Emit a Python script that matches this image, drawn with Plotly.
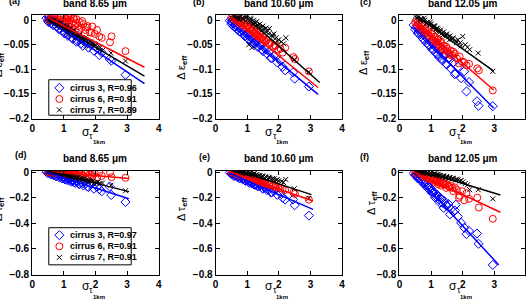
import plotly.graph_objects as go

W, H = 528, 305

# ---------------- data ----------------
# sigma_tau_1km for each cirrus case (shared by all panels)
x3 = [0.45,0.5,0.55,0.6,0.63,0.68,0.72,0.77,0.82,0.86,0.9,0.95,1.0,1.04,1.1,1.15,1.2,1.25,1.3,1.36,1.42,1.48,1.55,1.62,1.7,1.78,1.85,1.95,2.05,2.12,2.2,2.45,2.5,2.95,
      0.52,0.58,0.66,0.75,0.84,0.93,1.02,1.08,1.13,1.22,1.28,1.33,1.4,1.5,1.6,1.75]
x6 = [0.5,0.55,0.6,0.66,0.7,0.75,0.8,0.85,0.9,0.95,1.0,1.05,1.1,1.15,1.2,1.25,1.3,1.35,1.4,1.45,1.5,1.56,1.62,1.68,1.75,1.82,1.9,1.98,2.05,2.12,2.2,2.46,2.51,2.95,
      0.62,0.72,0.82,0.92,1.02,1.08,1.12,1.18,1.22,1.28,1.32,1.38,1.48,1.58,1.7,1.88]
x7 = [0.5,0.55,0.6,0.65,0.7,0.75,0.8,0.85,0.9,0.95,1.0,1.05,1.1,1.15,1.2,1.25,1.3,1.35,1.4,1.45,1.5,1.55,1.6,1.65,1.7,1.78,1.85,1.92,2.0,2.08,2.15,2.22,2.49,2.95,
      0.58,0.68,0.78,0.88,0.98,1.08,1.12,1.18,1.22,1.28,1.38,1.48,1.58,1.68,1.8,1.95]

# panel (a) delta eps_eff, band 8.65
ya3 = [0.004,-0.002,0.003,-0.006,0.0,-0.009,-0.003,-0.012,-0.008,-0.017,-0.011,-0.021,-0.015,-0.026,-0.019,-0.030,-0.024,-0.035,-0.028,-0.031,-0.041,-0.036,-0.047,-0.042,-0.046,-0.056,-0.050,-0.062,-0.058,-0.071,-0.066,-0.079,-0.0825,-0.111,
       -0.004,0.002,-0.010,-0.003,-0.018,-0.011,-0.027,-0.016,-0.032,-0.023,-0.038,-0.027,-0.044,-0.035,-0.052,-0.047]
ya6 = [0.004,0.0,0.006,0.002,0.007,0.003,0.008,0.001,0.007,-0.002,0.008,0.004,-0.004,0.006,0.0,-0.007,0.004,-0.010,0.002,-0.012,-0.004,-0.016,-0.008,-0.020,-0.012,-0.024,-0.013,-0.028,-0.020,-0.033,-0.036,-0.045,-0.033,-0.063,
       0.005,0.001,-0.004,0.006,-0.008,0.002,0.007,-0.012,0.005,-0.016,0.003,-0.006,-0.020,-0.002,-0.015,-0.026]
ya7 = [0.003,-0.001,0.001,-0.004,-0.002,-0.007,-0.004,-0.010,-0.008,-0.013,-0.011,-0.017,-0.015,-0.021,-0.018,-0.025,-0.022,-0.029,-0.026,-0.033,-0.031,-0.037,-0.035,-0.041,-0.039,-0.046,-0.044,-0.051,-0.050,-0.056,-0.055,-0.062,-0.067,-0.083,
       -0.004,0.0,-0.012,-0.005,-0.018,-0.012,-0.026,-0.018,-0.030,-0.022,-0.036,-0.030,-0.044,-0.036,-0.053,-0.048]
# panel (b) delta eps_eff, band 10.60
yb3 = [-0.001,-0.008,-0.006,-0.013,-0.010,-0.018,-0.015,-0.023,-0.019,-0.028,-0.024,-0.032,-0.029,-0.038,-0.034,-0.043,-0.039,-0.048,-0.044,-0.054,-0.050,-0.060,-0.057,-0.068,-0.064,-0.077,-0.072,-0.086,-0.083,-0.095,-0.102,-0.106,-0.119,-0.135,
       -0.004,-0.013,-0.011,-0.023,-0.020,-0.033,-0.030,-0.041,-0.036,-0.048,-0.044,-0.054,-0.050,-0.063,-0.060,-0.077]
yb6 = [0.006,0.002,0.004,-0.002,0.001,-0.006,-0.003,-0.010,-0.006,-0.014,-0.010,-0.018,-0.015,-0.022,-0.019,-0.027,-0.024,-0.032,-0.029,-0.037,-0.034,-0.042,-0.040,-0.048,-0.046,-0.054,-0.052,-0.060,-0.058,-0.066,-0.056,-0.075,-0.079,-0.104,
       0.005,0.0,-0.004,-0.008,-0.013,-0.016,-0.020,-0.022,-0.027,-0.028,-0.033,-0.034,-0.040,-0.044,-0.048,-0.052]
yb7 = [0.006,0.003,0.008,0.002,0.007,0.0,0.008,0.003,0.006,-0.002,0.009,-0.050,0.004,-0.056,0.0,-0.006,-0.003,-0.010,-0.008,-0.014,-0.012,-0.018,-0.016,-0.022,-0.017,-0.030,-0.028,-0.036,-0.040,-0.044,-0.048,-0.036,-0.080,-0.105,
       0.009,0.005,0.009,0.002,0.006,-0.004,0.002,-0.008,-0.004,-0.012,-0.015,-0.020,-0.024,-0.028,-0.034,-0.042]
# panel (c) delta eps_eff, band 12.05
yc3 = [-0.010,-0.019,-0.016,-0.027,-0.022,-0.033,-0.028,-0.040,-0.034,-0.047,-0.039,-0.052,-0.045,-0.060,-0.049,-0.067,-0.058,-0.075,-0.063,-0.082,-0.070,-0.089,-0.078,-0.098,-0.086,-0.108,-0.095,-0.118,-0.104,-0.145,-0.126,-0.165,-0.174,-0.175,
       -0.014,-0.026,-0.024,-0.038,-0.035,-0.050,-0.046,-0.060,-0.054,-0.070,-0.062,-0.078,-0.072,-0.090,-0.080,-0.110]
yc6 = [-0.004,-0.010,-0.008,-0.016,-0.012,-0.021,-0.018,-0.027,-0.022,-0.032,-0.028,-0.038,-0.034,-0.044,-0.040,-0.050,-0.046,-0.056,-0.052,-0.062,-0.058,-0.067,-0.062,-0.072,-0.068,-0.078,-0.074,-0.084,-0.086,-0.092,-0.089,-0.098,-0.102,-0.143,
       -0.006,-0.020,-0.017,-0.030,-0.026,-0.042,-0.034,-0.046,-0.038,-0.054,-0.044,-0.060,-0.054,-0.070,-0.064,-0.088]
yc7 = [0.008,0.004,0.006,0.001,0.003,-0.002,0.0,-0.006,-0.004,-0.010,-0.008,-0.014,-0.012,-0.018,-0.016,-0.022,-0.020,-0.026,-0.024,-0.030,-0.028,-0.034,-0.032,-0.038,-0.036,-0.042,-0.040,-0.046,-0.033,-0.050,-0.055,-0.060,-0.067,-0.104,
       0.009,-0.001,0.004,-0.006,-0.004,-0.012,-0.013,-0.018,-0.020,-0.024,-0.030,-0.032,-0.040,-0.038,-0.046,-0.052]
# panel (d) delta tau_eff, band 8.65
yd3 = [0.0,-0.008,-0.004,-0.018,-0.010,-0.026,-0.016,-0.034,-0.022,-0.042,-0.030,-0.050,-0.038,-0.058,-0.045,-0.066,-0.052,-0.075,-0.060,-0.085,-0.068,-0.094,-0.078,-0.105,-0.088,-0.118,-0.098,-0.130,-0.112,-0.133,-0.150,-0.113,-0.179,-0.234,
       -0.002,-0.016,-0.012,-0.032,-0.026,-0.046,-0.040,-0.060,-0.050,-0.070,-0.062,-0.080,-0.070,-0.094,-0.086,-0.112]
yd6 = [0.0,0.003,-0.004,0.002,-0.006,0.0,-0.008,0.002,-0.010,-0.003,-0.012,0.0,-0.015,-0.004,-0.018,-0.002,-0.020,-0.008,-0.024,-0.005,-0.028,-0.012,-0.030,-0.006,-0.034,-0.015,-0.038,-0.010,-0.042,0.0,-0.030,-0.003,-0.040,-0.045,
       0.004,-0.002,0.003,-0.006,0.002,-0.010,0.004,-0.012,-0.002,-0.016,0.003,-0.020,-0.008,-0.026,0.002,-0.022]
yd7 = [0.0,0.004,-0.004,0.0,-0.008,-0.004,-0.012,-0.008,-0.016,-0.012,-0.022,-0.018,-0.028,-0.024,-0.034,-0.030,-0.040,-0.036,-0.046,-0.042,-0.052,-0.048,-0.058,-0.054,-0.064,-0.062,-0.072,-0.070,-0.080,-0.078,-0.088,-0.086,-0.103,-0.146,
       0.002,-0.008,-0.006,-0.020,-0.018,-0.032,-0.026,-0.040,-0.034,-0.046,-0.044,-0.058,-0.056,-0.070,-0.068,-0.088]
# panel (e) delta tau_eff, band 10.60
ye3 = [-0.004,-0.015,-0.012,-0.028,-0.022,-0.038,-0.030,-0.048,-0.040,-0.058,-0.050,-0.068,-0.060,-0.078,-0.072,-0.090,-0.082,-0.100,-0.094,-0.112,-0.104,-0.125,-0.118,-0.140,-0.132,-0.158,-0.148,-0.178,-0.165,-0.200,-0.215,-0.214,-0.259,-0.340,
       -0.010,-0.030,-0.026,-0.048,-0.044,-0.066,-0.060,-0.084,-0.076,-0.098,-0.092,-0.110,-0.104,-0.130,-0.124,-0.160]
ye6 = [0.0,-0.005,-0.004,-0.012,-0.010,-0.020,-0.018,-0.028,-0.026,-0.035,-0.034,-0.044,-0.042,-0.053,-0.050,-0.062,-0.060,-0.070,-0.068,-0.079,-0.077,-0.088,-0.086,-0.098,-0.096,-0.108,-0.106,-0.118,-0.125,-0.132,-0.140,-0.160,-0.171,-0.216,
       -0.008,-0.024,-0.022,-0.036,-0.034,-0.050,-0.052,-0.058,-0.062,-0.066,-0.074,-0.076,-0.084,-0.092,-0.100,-0.118]
ye7 = [0.0,-0.002,0.002,-0.004,0.0,-0.006,-0.002,-0.008,-0.005,-0.012,-0.008,-0.016,-0.012,-0.020,-0.018,-0.026,-0.022,-0.032,-0.028,-0.038,-0.034,-0.044,-0.040,-0.050,-0.046,-0.056,-0.052,-0.062,-0.068,-0.074,-0.082,-0.058,-0.130,-0.205,
       0.002,-0.003,-0.001,-0.007,-0.004,-0.012,-0.010,-0.016,-0.014,-0.022,-0.026,-0.030,-0.036,-0.042,-0.050,-0.060]
# panel (f) delta tau_eff, band 12.05
yf3 = [-0.010,-0.025,-0.028,-0.045,-0.040,-0.068,-0.060,-0.092,-0.085,-0.118,-0.105,-0.140,-0.130,-0.165,-0.158,-0.190,-0.180,-0.215,-0.205,-0.240,-0.228,-0.262,-0.250,-0.290,-0.310,-0.255,-0.347,-0.397,-0.435,-0.485,-0.460,-0.480,-0.560,-0.725,
       -0.015,-0.050,-0.052,-0.080,-0.100,-0.120,-0.150,-0.160,-0.200,-0.190,-0.240,-0.210,-0.280,-0.260,-0.330,-0.300]
yf6 = [-0.005,-0.012,-0.010,-0.020,-0.018,-0.030,-0.026,-0.040,-0.036,-0.050,-0.046,-0.060,-0.056,-0.070,-0.066,-0.080,-0.076,-0.090,-0.086,-0.100,-0.096,-0.112,-0.108,-0.125,-0.120,-0.138,-0.184,-0.150,-0.220,-0.165,-0.209,-0.200,-0.277,-0.365,
       -0.008,-0.035,-0.030,-0.055,-0.050,-0.062,-0.078,-0.072,-0.094,-0.084,-0.106,-0.094,-0.124,-0.118,-0.150,-0.200]
yf7 = [0.002,-0.002,0.0,-0.005,-0.002,-0.008,-0.005,-0.012,-0.008,-0.016,-0.012,-0.020,-0.016,-0.025,-0.022,-0.030,-0.028,-0.036,-0.034,-0.042,-0.040,-0.048,-0.046,-0.055,-0.052,-0.062,-0.060,-0.070,-0.078,-0.090,-0.100,-0.138,-0.138,-0.209,
       0.003,-0.004,-0.002,-0.010,-0.006,-0.016,-0.014,-0.020,-0.018,-0.026,-0.030,-0.036,-0.042,-0.048,-0.056,-0.066]

# linear fits per panel: (x_start, x_end, slope, intercept) for cirrus 3, 6, 7
fit_a = [(0.38, 3.55, -0.0432, 0.0244), (0.50, 3.55, -0.0330, 0.0214), (0.50, 3.55, -0.0380, 0.0212)]
fit_b = [(0.375, 3.24, -0.0530, 0.0209), (0.48, 3.24, -0.0520, 0.0316), (0.90, 3.29, -0.0570, 0.0608)]
fit_c = [(0.45, 2.98, -0.0650, 0.0147), (0.43, 2.98, -0.0557, 0.0240), (0.58, 2.98, -0.0460, 0.0333)]
fit_d = [(0.42, 3.06, -0.0790, 0.0330), (0.53, 3.06, -0.0217, 0.0165), (0.53, 3.06, -0.0625, 0.0381)]
fit_e = [(0.43, 3.08, -0.1070, 0.0380), (0.43, 3.08, -0.0870, 0.0420), (0.69, 3.03, -0.0810, 0.0690)]
fit_f = [(0.48, 3.14, -0.2680, 0.1160), (0.43, 3.19, -0.1156, 0.0547), (0.58, 3.19, -0.0755, 0.0618)]

band_titles = ["band 8.65 μm", "band 10.60 μm", "band 12.05 μm"]
panel_labels = ["(a)", "(b)", "(c)", "(d)", "(e)", "(f)"]
legend_top = ["cirrus 3, R=0.96", "cirrus 6, R=0.91", "cirrus 7, R=0.89"]
legend_bottom = ["cirrus 3, R=0.97", "cirrus 6, R=0.91", "cirrus 7, R=0.91"]
xtick_vals = [0, 1, 2, 3, 4]
xtick_text = ["0", "1", "2", "3", "4"]
ytick_top_vals = [0, -0.05, -0.1, -0.15, -0.2]
ytick_top_text = ["0", "\u22120.05", "\u22120.1", "\u22120.15", "\u22120.2"]
ytick_bot_vals = [0, -0.2, -0.4, -0.6, -0.8]
ytick_bot_text = ["0", "\u22120.2", "\u22120.4", "\u22120.6", "\u22120.8"]

# ---------------- styling / layout ----------------
FONT = "Liberation Sans, Arial, sans-serif"
colors = ["#0000ff", "#ff0000", "#000000"]
symbols = ["diamond-open", "circle-open", "x-thin-open"]
msizes = [7, 7, 5]
xs = [x3, x6, x7]
panel_y = [[ya3, ya6, ya7], [yb3, yb6, yb7], [yc3, yc6, yc7],
           [yd3, yd6, yd7], [ye3, ye6, ye7], [yf3, yf6, yf7]]
fits = [fit_a, fit_b, fit_c, fit_d, fit_e, fit_f]

lefts = [29.5, 215.0, 401.0]
top_row = (11.6, 118.4)
bot_row = (172.4, 279.7)

def fx(p):
    return p / W

def fy(p):
    return 1 - p / H

fig = go.Figure()
layout = dict(
    width=W, height=H, margin=dict(l=0, r=0, t=0, b=0),
    paper_bgcolor="white", plot_bgcolor="rgba(0,0,0,0)", showlegend=False,
    font=dict(family=FONT, color="black"),
)
annotations = []
shapes = []

def ann(text, px, py, size, **kw):
    d = dict(text=text, x=fx(px), y=fy(py), xref="paper", yref="paper", showarrow=False,
             xanchor="center", yanchor="middle", font=dict(size=size))
    d.update(kw)
    annotations.append(d)

for i in range(6):
    col = i % 3
    row = i // 3
    ax = "" if i == 0 else str(i + 1)
    left = lefts[col]
    right = min(left + 128, W)
    xmax = (right - left) / 32.0
    ytop, ybot = top_row if row == 0 else bot_row
    for k in range(3):
        fig.add_trace(go.Scatter(
            x=xs[k], y=panel_y[i][k], mode="markers",
            marker=dict(symbol=symbols[k], size=msizes[k], color=colors[k],
                        line=dict(width=1, color=colors[k])),
            xaxis="x" + ax, yaxis="y" + ax, hoverinfo="skip"))
    for k in range(3):
        x0, x1, m, b = fits[i][k]
        fig.add_trace(go.Scatter(
            x=[x0, x1], y=[m * x0 + b, m * x1 + b], mode="lines",
            line=dict(color=colors[k], width=1.5),
            xaxis="x" + ax, yaxis="y" + ax, hoverinfo="skip"))
    common = dict(showgrid=False, zeroline=False, showline=True, linecolor="black",
                  linewidth=1, mirror="allticks", ticks="inside", ticklen=4,
                  tickwidth=1, tickcolor="black",
                  tickfont=dict(family=FONT, size=10, color="black", weight="bold"))
    layout["xaxis" + ax] = dict(common, domain=[fx(left), fx(right)], range=[0, xmax],
                                tickvals=xtick_vals, ticktext=xtick_text,
                                anchor="y" + ax, fixedrange=True)
    layout["yaxis" + ax] = dict(common, domain=[fy(ybot), fy(ytop)],
                                range=[-0.2, 0.01] if row == 0 else [-0.8, 0.01],
                                tickvals=ytick_top_vals if row == 0 else ytick_bot_vals,
                                ticktext=ytick_top_text if row == 0 else ytick_bot_text,
                                anchor="x" + ax, fixedrange=True)
    # panel title
    ann("<b>" + band_titles[col] + "</b>", left + 64, ytop - 12.2, 10)

# panel labels
lab_pos = [(12, -3), (198, -2), (367, -2), (18, 156), (204, 158), (366, 158)]
for lab, (px, py) in zip(panel_labels, lab_pos):
    ann("<b>" + lab + "</b>", px, py, 9)

# y-axis titles
ytitle_pos = [(-4, 63), (181, 65), (365, 60), (-4, 212), (181, 212), (373, 206)]
for i, (px, py) in enumerate(ytitle_pos):
    sym = "\u03b5" if i < 3 else "\u03c4"
    ann("\u0394 " + sym + "<sub><b>eff</b></sub>", px, py, 11, textangle=-90)

# x-axis titles (sigma with nested subscripts)
for i in range(6):
    col = i % 3
    row = i // 3
    base_y = 132 if row == 0 else 291.5
    bx = lefts[col] + 54
    ann("\u03c3", bx, base_y, 12)
    ann("\u03c4", bx + 6, base_y + 4, 9)
    ann("<b>1km</b>", bx + 13.5, base_y + 11, 6)

# legends (boxes, glyphs, texts)
legend_boxes = [(46.3, 78.3, 129.7, 115.0, [86.7, 98.2, 109.5], legend_top),
                (46.3, 231.3, 129.7, 269.7, [239.0, 250.5, 262.0], legend_bottom)]
for (lx0, ly0, lx1, ly1, rows, texts) in legend_boxes:
    shapes.append(dict(type="rect", xref="paper", yref="paper", x0=fx(lx0), x1=fx(lx1),
                       y0=fy(ly1), y1=fy(ly0), line=dict(color="black", width=1),
                       fillcolor="white", layer="below"))
    for k in range(3):
        fig.add_trace(go.Scatter(
            x=[57.0], y=[rows[k]], mode="markers",
            marker=dict(symbol=symbols[k], size=msizes[k], color=colors[k],
                        line=dict(width=1, color=colors[k])),
            xaxis="x7", yaxis="y7", hoverinfo="skip"))
        ann("<b>" + texts[k] + "</b>", 65.5, rows[k], 9, xanchor="left")

layout["xaxis7"] = dict(domain=[0, 1], range=[0, W], visible=False, anchor="y7", fixedrange=True)
layout["yaxis7"] = dict(domain=[0, 1], range=[H, 0], visible=False, anchor="x7", fixedrange=True)
layout["annotations"] = annotations
layout["shapes"] = shapes
fig.update_layout(**layout)
fig.write_html("out.html", config={"displayModeBar": False})
